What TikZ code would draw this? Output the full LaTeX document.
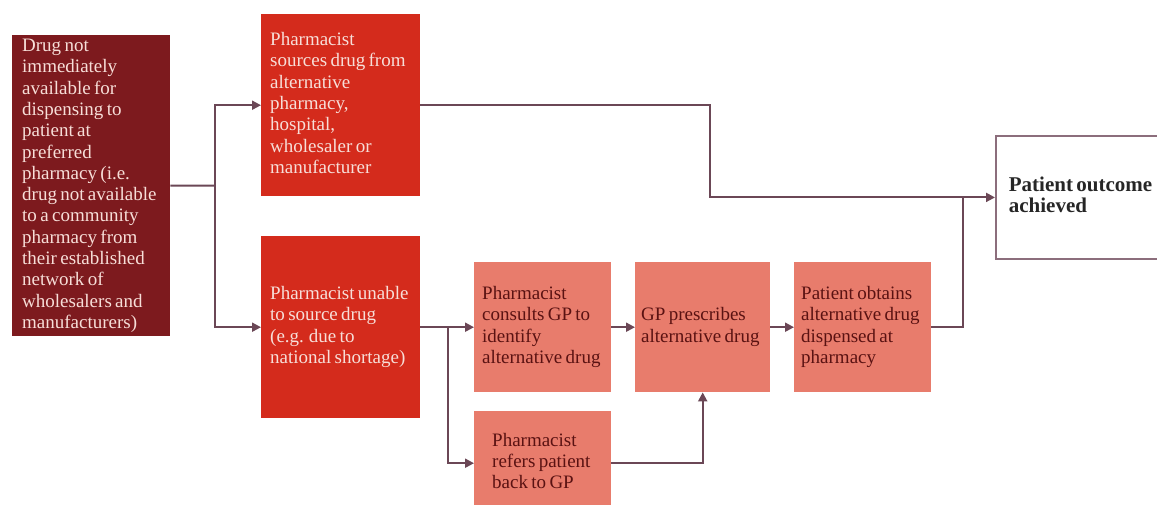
\documentclass[tikz,border=0pt]{standalone}
\usepackage{fontspec}
\setmainfont{Liberation Serif}
\usetikzlibrary{arrows.meta}

\definecolor{boxdark}{HTML}{7D1A1E}
\definecolor{boxred}{HTML}{D42B1C}
\definecolor{boxsalmon}{HTML}{E87C6C}
\definecolor{txtlight}{HTML}{F7DED8}
\definecolor{txtdark}{HTML}{5A1212}
\definecolor{linkcol}{HTML}{6B4756}
\definecolor{framecol}{HTML}{8C6E7C}

\newcommand{\lines}[1]{\fontsize{19}{21.3}\selectfont\begin{tabular}{@{}l@{}}#1\end{tabular}}
\newcommand{\boldlines}[1]{\fontsize{21}{21}\selectfont\bfseries\begin{tabular}{@{}l@{}}#1\end{tabular}}

\tikzset{
  panel/.style={rectangle, anchor=north west, inner ysep=0pt, align=left},
  darkpanel/.style={panel, fill=boxdark, text=txtlight},
  redpanel/.style={panel, fill=boxred, text=txtlight},
  softpanel/.style={panel, fill=boxsalmon, text=txtdark},
  endpanel/.style={panel, fill=white, draw=framecol, line width=1.8pt, text=black!85},
  link/.style={draw=linkcol, line width=2pt},
  arrowlink/.style={link, -{Triangle[length=9pt,width=9pt]}},
}

\begin{document}
\begin{tikzpicture}[x=1pt,y=-1pt]
\useasboundingbox[fill=white] (0,0) rectangle (1157,504);

% starting situation
\node[darkpanel, minimum width=158pt, minimum height=301pt, inner xsep=10pt, text width=138pt]
  (start) at (12,35) {\lines{Drug not\\ immediately\\ available for\\ dispensing to\\ patient at\\ preferred\\ pharmacy (i.e.\\ drug not available\\ to a community\\ pharmacy from\\ their established\\ network of\\ wholesalers and\\ manufacturers)}};

% the two branches
\node[redpanel, minimum width=159pt, minimum height=182pt, inner xsep=9pt, text width=141pt]
  (sources) at (261,14) {\lines{Pharmacist\\ sources drug from\\ alternative\\ pharmacy,\\ hospital,\\ wholesaler or\\ manufacturer}};
\node[redpanel, minimum width=159pt, minimum height=182pt, inner xsep=9pt, text width=141pt]
  (unable) at (261,236) {\lines{Pharmacist unable\\ to source drug\\ (e.g. due to\\ national shortage)}};

% alternative drug route
\node[softpanel, minimum width=137pt, minimum height=130pt, inner xsep=8pt, text width=121pt]
  (consult) at (474,262) {\lines{Pharmacist\\ consults GP to\\ identify\\ alternative drug}};
\node[softpanel, minimum width=135pt, minimum height=130pt, inner xsep=6pt, text width=123pt]
  (prescribe) at (635,262) {\lines{GP prescribes\\ alternative drug}};
\node[softpanel, minimum width=137pt, minimum height=130pt, inner xsep=7pt, text width=123pt]
  (obtain) at (794,262) {\lines{Patient obtains\\ alternative drug\\ dispensed at\\ pharmacy}};
\node[softpanel, minimum width=137pt, minimum height=104pt, inner xsep=18pt, text width=101pt]
  (refer) at (474,411) {\lines{Pharmacist\\ refers patient\\ back to GP}};

% outcome
\node[endpanel, minimum width=185pt, minimum height=123pt, inner xsep=13pt, text width=159pt]
  (outcome) at (995,135) {\boldlines{Patient outcome\\ achieved}};

% junction points
\coordinate (split) at (215,185.5);
\coordinate (topbend) at (710,150);
\coordinate (merge) at (963,196.5);
\coordinate (gpsplit) at (448,327);

% connectors
\draw[link] (start.east) -- (split);
\draw[arrowlink] (split) |- (sources.west);
\draw[arrowlink] (split) |- (unable.west);

\draw[arrowlink] (sources.east) -- (sources.east -| topbend) |- (outcome.west);
\draw[link] (obtain.east) -| (merge);

\draw[arrowlink] (unable.east) -- (consult.west);
\draw[arrowlink] (gpsplit) |- (refer.west);
\draw[arrowlink] (consult.east) -- (prescribe.west);
\draw[arrowlink] (prescribe.east) -- (obtain.west);
\draw[arrowlink] (refer.east) -| (prescribe.south);

\end{tikzpicture}
\end{document}
